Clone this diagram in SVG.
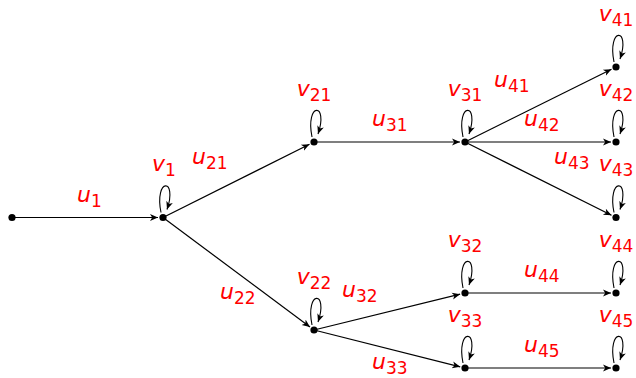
<svg xmlns="http://www.w3.org/2000/svg" width="636" height="378" viewBox="0 0 636 378">
<style>
.e{stroke:#000;stroke-width:1.2;fill:none;marker-end:url(#arr)}
.lp{stroke:#000;stroke-width:1.1;fill:none;marker-end:url(#arr)}
.n{fill:#000}
.lb{font-family:"DejaVu Sans",sans-serif;font-size:22px;fill:#ff0000}
.it{font-style:italic}
.sb{font-size:17px}
</style>
<defs>
<marker id="arr" markerWidth="10" markerHeight="10" refX="8" refY="4" orient="auto" markerUnits="userSpaceOnUse" viewBox="0 0 10 8">
<path d="M0,0.6 L8,4 L0,7.4 L2.2,4 Z" fill="#000"/>
</marker>
</defs>
<rect width="636" height="378" fill="#fff"/>
<g id="connectors">
<line class="e" x1="12" y1="217.5" x2="158" y2="217.5"/>
<line class="e" x1="163" y1="217.5" x2="309.5" y2="144.2"/>
<line class="e" x1="163" y1="217.5" x2="310" y2="327"/>
<line class="e" x1="314" y1="142" x2="460" y2="142"/>
<line class="e" x1="314" y1="330" x2="460.1" y2="294.2"/>
<line class="e" x1="314" y1="330" x2="460.2" y2="366.8"/>
<line class="e" x1="465" y1="142" x2="611.5" y2="69.2"/>
<line class="e" x1="465" y1="142" x2="611" y2="142"/>
<line class="e" x1="465" y1="142" x2="611.5" y2="215.3"/>
<line class="e" x1="465" y1="293" x2="611" y2="293"/>
<line class="e" x1="465" y1="368" x2="611" y2="368"/>
<text class="lb" x="77" y="202"><tspan class="it">u</tspan><tspan class="sb" dy="5">1</tspan></text>
<text class="lb" x="192" y="164"><tspan class="it">u</tspan><tspan class="sb" dy="5">21</tspan></text>
<text class="lb" x="220" y="299"><tspan class="it">u</tspan><tspan class="sb" dy="5">22</tspan></text>
<text class="lb" x="372" y="126"><tspan class="it">u</tspan><tspan class="sb" dy="5">31</tspan></text>
<text class="lb" x="342" y="297"><tspan class="it">u</tspan><tspan class="sb" dy="5">32</tspan></text>
<text class="lb" x="372" y="369"><tspan class="it">u</tspan><tspan class="sb" dy="5">33</tspan></text>
<text class="lb" x="494" y="87"><tspan class="it">u</tspan><tspan class="sb" dy="5">41</tspan></text>
<text class="lb" x="524" y="126"><tspan class="it">u</tspan><tspan class="sb" dy="5">42</tspan></text>
<text class="lb" x="554" y="164"><tspan class="it">u</tspan><tspan class="sb" dy="5">43</tspan></text>
<text class="lb" x="524" y="277"><tspan class="it">u</tspan><tspan class="sb" dy="5">44</tspan></text>
<text class="lb" x="524" y="352"><tspan class="it">u</tspan><tspan class="sb" dy="5">45</tspan></text>
</g>
<g id="start"><circle class="n" cx="12" cy="217.5" r="3.6"/></g>
<g id="v1"><circle class="n" cx="163" cy="217.5" r="3.6"/><path class="lp" d="M161,212.5 C154,177.5 178,177.5 167,209.5"/><text class="lb" x="164" y="171" text-anchor="middle"><tspan class="it">v</tspan><tspan class="sb" dy="5">1</tspan></text></g>
<g id="v21"><circle class="n" cx="314" cy="142" r="3.6"/><path class="lp" d="M312,137 C305,102 329,102 318,134"/><text class="lb" x="314" y="96" text-anchor="middle"><tspan class="it">v</tspan><tspan class="sb" dy="5">21</tspan></text></g>
<g id="v22"><circle class="n" cx="314" cy="330" r="3.6"/><path class="lp" d="M312,325 C305,290 329,290 318,322"/><text class="lb" x="314" y="284" text-anchor="middle"><tspan class="it">v</tspan><tspan class="sb" dy="5">22</tspan></text></g>
<g id="v31"><circle class="n" cx="465" cy="142" r="3.6"/><path class="lp" d="M463,137 C456,102 480,102 469,134"/><text class="lb" x="465" y="96" text-anchor="middle"><tspan class="it">v</tspan><tspan class="sb" dy="5">31</tspan></text></g>
<g id="v32"><circle class="n" cx="465" cy="293" r="3.6"/><path class="lp" d="M463,288 C456,253 480,253 469,285"/><text class="lb" x="465" y="247" text-anchor="middle"><tspan class="it">v</tspan><tspan class="sb" dy="5">32</tspan></text></g>
<g id="v33"><circle class="n" cx="465" cy="368" r="3.6"/><path class="lp" d="M463,363 C456,328 480,328 469,360"/><text class="lb" x="465" y="322" text-anchor="middle"><tspan class="it">v</tspan><tspan class="sb" dy="5">33</tspan></text></g>
<g id="v41"><circle class="n" cx="616" cy="67" r="3.6"/><path class="lp" d="M614,62 C607,27 631,27 620,59"/><text class="lb" x="616" y="21" text-anchor="middle"><tspan class="it">v</tspan><tspan class="sb" dy="5">41</tspan></text></g>
<g id="v42"><circle class="n" cx="616" cy="142" r="3.6"/><path class="lp" d="M614,137 C607,102 631,102 620,134"/><text class="lb" x="616" y="96" text-anchor="middle"><tspan class="it">v</tspan><tspan class="sb" dy="5">42</tspan></text></g>
<g id="v43"><circle class="n" cx="616" cy="217.5" r="3.6"/><path class="lp" d="M614,212.5 C607,177.5 631,177.5 620,209.5"/><text class="lb" x="616" y="171" text-anchor="middle"><tspan class="it">v</tspan><tspan class="sb" dy="5">43</tspan></text></g>
<g id="v44"><circle class="n" cx="616" cy="293" r="3.6"/><path class="lp" d="M614,288 C607,253 631,253 620,285"/><text class="lb" x="616" y="247" text-anchor="middle"><tspan class="it">v</tspan><tspan class="sb" dy="5">44</tspan></text></g>
<g id="v45"><circle class="n" cx="616" cy="368" r="3.6"/><path class="lp" d="M614,363 C607,328 631,328 620,360"/><text class="lb" x="616" y="322" text-anchor="middle"><tspan class="it">v</tspan><tspan class="sb" dy="5">45</tspan></text></g>
</svg>
